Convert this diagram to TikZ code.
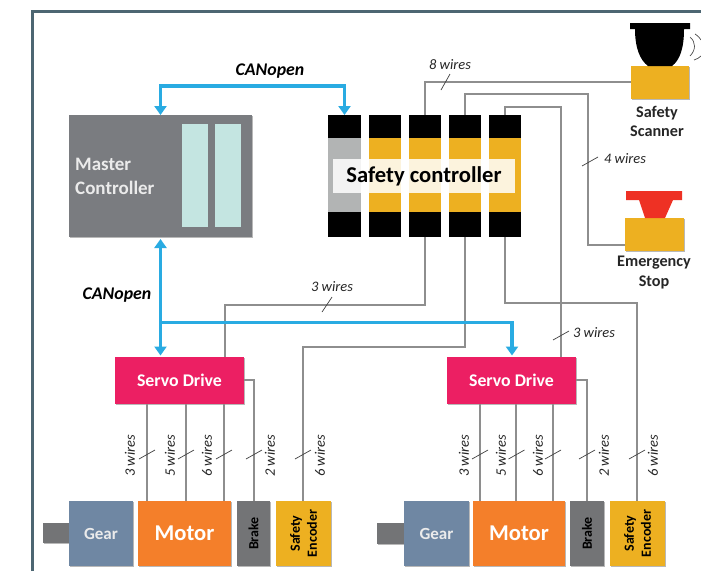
\documentclass[tikz,border=0pt]{standalone}
\usepackage{fontspec}
\setmainfont{Carlito}
\usetikzlibrary{arrows.meta,shadows,calc}
\definecolor{framec}{HTML}{4D6672}
\definecolor{blueline}{HTML}{29ABE2}
\definecolor{wirec}{HTML}{8E8E8E}
\definecolor{masterc}{HTML}{7A7C80}
\definecolor{panelc}{HTML}{C4E5E1}
\definecolor{yellowc}{HTML}{EDB021}
\definecolor{grayc}{HTML}{B2B4B4}
\definecolor{servoc}{HTML}{EC1F63}
\definecolor{gearc}{HTML}{6F87A3}
\definecolor{motorc}{HTML}{F47F2A}
\definecolor{brakec}{HTML}{737476}
\definecolor{redc}{HTML}{EE3124}
\tikzset{
 boxbase/.style={inner sep=0pt,outer sep=0pt,anchor=north west,align=center},
 shadowed/.style={drop shadow={shadow xshift=1.2pt,shadow yshift=-1.2pt,fill=black!55,opacity=.5}},
 wire/.style={draw=wirec,line width=1.5pt},
 can/.style={draw=blueline,line width=3.1pt,-{Triangle[width=12pt,length=9pt]}},
 cantwo/.style={draw=blueline,line width=3.1pt,{Triangle[width=12pt,length=9pt]}-{Triangle[width=12pt,length=9pt]}},
 tick/.style={draw=black!75,line width=.7pt},
 wlabel/.style={font=\fontsize{14.5}{15}\selectfont\itshape,text=black!85,inner sep=0pt},
 vlabel/.style={wlabel,rotate=90},
 canlabel/.style={font=\fontsize{17.8}{19}\selectfont\bfseries\itshape,inner sep=0pt},
 outlabel/.style={font=\fontsize{16.2}{19.5}\selectfont\bfseries,text=black!85,inner sep=0pt,align=center},
}
\newcommand{\bx}[7][]{%
 \pgfmathsetmacro{\bw}{#5-#3}\pgfmathsetmacro{\bh}{#6-#4}%
 \node[boxbase,minimum width=\bw pt,minimum height=\bh pt,#1] (#2) at (#3,#4) {#7};}
\begin{document}
\begin{tikzpicture}[x=1pt,y=-1pt]
\useasboundingbox (0,0) rectangle (701,571);
\fill[white] (0,0) rectangle (701,571);
% frame
\coordinate (fa) at (32.5,571);
\coordinate (fb) at (32.5,11.5);
\coordinate (fc) at (701,11.5);
\draw[framec,line width=2.8pt] (fa) -- (fb) -- (fc);

% master controller
\bx[fill=masterc,shadowed]{master}{69}{115}{252}{237}{}
\bx[fill=panelc]{panelA}{182}{124}{208}{227}{}
\bx[fill=panelc]{panelB}{215}{124}{241}{227}{}
\node[anchor=west,inner sep=0pt,align=left,text=white!92!black,font=\fontsize{19}{23.5}\selectfont\bfseries] (mastertext) at (75,176.5) {Master\\Controller};

% guide positions
\foreach \n/\x in {xa/147,xb/186,xc/224,xd/254,xe/303,xf/480,xg/516,xh/553,xi/587,xj/637,xk/225,xl/160.5,xm/512,xn/561,xo/588}
  \coordinate (\n) at (\x,0);
\foreach \n/\y in {ya/82,yb/94,yc/107,yd/245,ye/305,yf/347,yg/303,yh/380,yi/86,yj/322.5}
  \coordinate (\n) at (0,\y);

% safety controller
\foreach \i/\a/\b/\c in {1/328/361/grayc,2/369/401/yellowc,3/409/441/yellowc,4/449/481/yellowc,5/489/521/yellowc}{
  \bx[fill=\c]{mid\i}{\a}{138}{\b}{212}{}
  \bx[fill=black]{top\i}{\a}{115}{\b}{138}{}
  \bx[fill=black]{bot\i}{\a}{212}{\b}{237}{}
}
\bx[fill=white,fill opacity=.85,text opacity=1,font=\fontsize{22.6}{25}\selectfont\bfseries]{safety}{333}{159}{515}{193}{Safety controller}

% scanner and stop
\bx[fill=yellowc,shadowed]{scanner}{631}{66}{689}{99}{}
\bx[fill=yellowc,shadowed]{estop}{625}{218}{684}{251}{}
\fill[black] (630,23) -- (690,23) -- (690,29) -- (684,29) .. controls (684,48) and (680,60) .. (672,66) -- (648,66) .. controls (640,60) and (635,48) .. (635,29) -- (630,29) -- cycle;
\fill[redc] (626,191) -- (682,191) -- (682,200) -- (673,200) -- (665,218) -- (645,218) -- (639,200) -- (626,200) -- cycle;
\draw[black!70,line width=.7pt] (690,37) .. controls (696,42) and (696,50) .. (690,56);
\draw[black!70,line width=.7pt] (695,34) .. controls (698,36) and (700,38) .. (701,40);
\draw[black!70,line width=.7pt] (694,60) .. controls (697,59) and (699,58) .. (701,56);
\node[outlabel] (scannertext) at (657,121.5) {Safety\\Scanner};
\node[outlabel] (estoptext) at (654,272.5) {Emergency\\Stop};

% servo drives
\bx[fill=servoc,shadowed,text=white,font=\fontsize{17.8}{19}\selectfont\bfseries]{servoA}{115}{357}{244}{404}{Servo Drive}
\bx[fill=servoc,shadowed,text=white,font=\fontsize{17.8}{19}\selectfont\bfseries]{servoB}{447}{357}{576}{404}{Servo Drive}

% bottom row
\tikzset{gearfont/.style={text=white!92!black,font=\fontsize{17}{19}\selectfont\bfseries},
 motorfont/.style={text=white,font=\fontsize{22.6}{26}\selectfont\bfseries},
 sidefont/.style={text=black,font=\fontsize{14}{17}\selectfont\bfseries}}
\bx[fill=brakec,shadowed]{shaftA}{43}{523}{69}{543}{}
\bx[fill=gearc,shadowed,gearfont]{gearA}{69}{501}{133}{566}{Gear}
\bx[fill=motorc,shadowed,motorfont]{motorA}{138}{501}{231}{566}{Motor}
\bx[fill=brakec,shadowed]{brakeA}{237}{501}{270}{566}{}
\bx[fill=yellowc,shadowed]{encA}{276}{501}{331}{566}{}
\bx[fill=brakec,shadowed]{shaftB}{377}{523}{404}{544}{}
\bx[fill=gearc,shadowed,gearfont]{gearB}{404}{501}{469}{566}{Gear}
\bx[fill=motorc,shadowed,motorfont]{motorB}{473}{501}{565}{566}{Motor}
\bx[fill=brakec,shadowed]{brakeB}{570}{501}{604}{566}{}
\bx[fill=yellowc,shadowed]{encB}{610}{501}{665}{566}{}
\node[sidefont,rotate=90,inner sep=0pt] (brakeAt) at (brakeA) {Brake};
\node[sidefont,rotate=90,inner sep=0pt] (brakeBt) at (brakeB) {Brake};
\node[sidefont,rotate=90,inner sep=0pt,align=center] (encAt) at (encA) {Safety\\Encoder};
\node[sidefont,rotate=90,inner sep=0pt,align=center] (encBt) at (encB) {Safety\\Encoder};

% wires
\draw[wire] (top3.north) -- (top3.north |- ya) -- (scanner.west |- ya);
\draw[wire] (top4.north) -- (top4.north |- yb) -- (yb -| xo) -- (yd -| xo) -- (estop.west |- yd);
\draw[wire] (top5.north) -- (top5.north |- yc) -- (yc -| xn) -- (servoB.north -| xn);
\draw[wire] (bot3.south) -- (bot3.south |- ye) -- (ye -| xk) -- (servoA.north -| xk);
\draw[wire] (bot4.south) -- (bot4.south |- yf) -- (yf -| xe) -- (encA.north -| xe);
\draw[wire] (bot5.south) -- (bot5.south |- yg) -- (yg -| xj) -- (encB.north -| xj);
\draw[wire] (servoA.south -| xa) -- (motorA.north -| xa);
\draw[wire] (servoA.south -| xb) -- (motorA.north -| xb);
\draw[wire] (servoA.south -| xc) -- (motorA.north -| xc);
\draw[wire] (servoA.east |- yh) -- (yh -| xd) -- (brakeA.north -| xd);
\draw[wire] (servoB.south -| xf) -- (motorB.north -| xf);
\draw[wire] (servoB.south -| xg) -- (motorB.north -| xg);
\draw[wire] (servoB.south -| xh) -- (motorB.north -| xh);
\draw[wire] (servoB.east |- yh) -- (yh -| xi) -- (brakeB.north -| xi);

% CANopen
\draw[cantwo] (master.north) -- (master.north |- yi) -- (yi -| top1.north) -- (top1.north);
\draw[cantwo,shorten <=2pt,shorten >=1.5pt] (master.south) -- (servoA.north -| master.south);
\draw[can,shorten >=1.5pt] (xl |- yj) -- (yj -| xm) -- (servoB.north -| xm);
\node[canlabel] (cana) at (270,71) {CANopen};
\node[canlabel] (canb) at (117,295) {CANopen};

% slash marks and wire counts
\foreach \x in {147,186,224,254,303,480,516.5,553,587,637}
  \draw[tick] (\x-8,459) -- (\x+8,450);
\draw[tick] (441,90) -- (450,74);
\draw[tick] (582,166) -- (598,157);
\draw[tick] (322,312) -- (332,297);
\draw[tick] (553,340) -- (569,331);
\node[wlabel] (l8) at (450,65) {8 wires};
\node[wlabel] (l4) at (625,159) {4 wires};
\node[wlabel] (l3a) at (332,287) {3 wires};
\node[wlabel] (l3b) at (594,333) {3 wires};
\foreach \x/\t [count=\k] in {130/3,170/5,207/6,270/2,320/6,464/3,501/5,538/6,604/2,653/6}
  \node[vlabel] (v\k) at (\x,456) {\t{} wires};
\end{tikzpicture}
\end{document}
